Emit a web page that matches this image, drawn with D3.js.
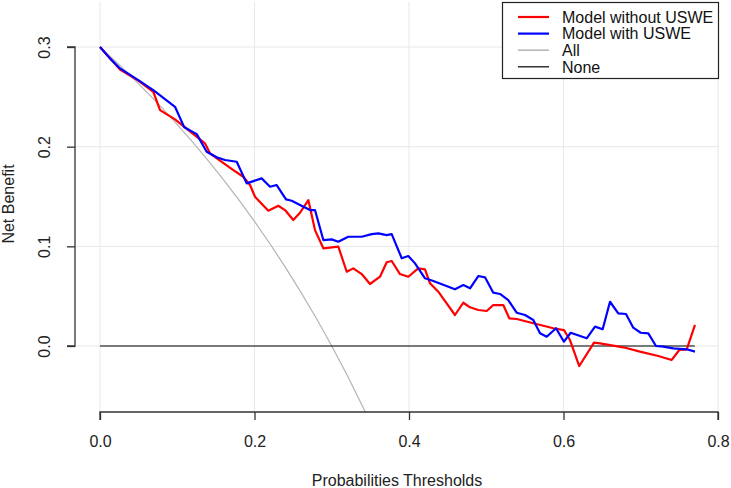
<!DOCTYPE html>
<html>
<head>
<meta charset="utf-8">
<script src="https://cdn.jsdelivr.net/npm/d3@7"></script>
<style>
  html, body { margin: 0; padding: 0; background: #fff; }
  svg { display: block; font-family: "Liberation Sans", Arial, sans-serif; }
</style>
</head>
<body>
<svg id="chart" width="731" height="488"></svg>
<script>
// ---- data ----
const xTicks = [0.0, 0.2, 0.4, 0.6, 0.8];
const yTicks = [0.0, 0.1, 0.2, 0.3];
const xTickLabels = ["0.0", "0.2", "0.4", "0.6", "0.8"];
const yTickLabels = ["0.0", "0.1", "0.2", "0.3"];
const legendLabels = ["Model without USWE", "Model with USWE", "All", "None"];

const redThresholds = [0, 0.0129, 0.0259, 0.0496, 0.0690, 0.0777, 0.0971, 0.1100, 0.1359, 0.1424, 0.1553, 0.1726, 0.1855, 0.1942, 0.2006, 0.2179, 0.2308, 0.2395, 0.2502, 0.2589, 0.2697, 0.2783, 0.2891, 0.3085, 0.3194, 0.3279, 0.3388, 0.3495, 0.3625, 0.3711, 0.3776, 0.3883, 0.3991, 0.4120, 0.4207, 0.4272, 0.4379, 0.4488, 0.4595, 0.4703, 0.4790, 0.4897, 0.5006, 0.5091, 0.5221, 0.5298, 0.5394, 0.5609, 0.5868, 0.6006, 0.6084, 0.6204, 0.6395, 0.6472, 0.6774, 0.6990, 0.7227, 0.7401, 0.7499, 0.7595, 0.7702];
const redValues = [0.300, 0.2886, 0.2773, 0.2663, 0.2551, 0.2367, 0.2274, 0.2194, 0.2033, 0.1933, 0.1859, 0.1765, 0.1698, 0.1615, 0.1498, 0.1357, 0.1407, 0.1364, 0.1264, 0.1337, 0.1464, 0.1163, 0.0980, 0.0998, 0.0745, 0.0779, 0.0722, 0.0622, 0.0695, 0.0840, 0.0853, 0.0722, 0.0695, 0.0779, 0.0769, 0.0629, 0.0545, 0.0428, 0.0311, 0.0434, 0.0388, 0.0361, 0.0351, 0.0411, 0.0411, 0.0278, 0.0271, 0.0228, 0.0178, 0.0160, 0.0060, -0.0201, 0.0033, 0.0027, -0.0013, -0.0057, -0.0100, -0.0140, -0.0040, -0.0033, 0.0211];

const blueThresholds = [0, 0.0129, 0.0259, 0.0496, 0.0690, 0.0971, 0.1091, 0.1252, 0.1381, 0.1511, 0.1618, 0.1770, 0.1899, 0.2093, 0.2201, 0.2287, 0.2408, 0.2482, 0.2589, 0.2718, 0.2783, 0.2891, 0.2999, 0.3085, 0.3214, 0.3388, 0.3517, 0.3603, 0.3711, 0.3776, 0.3906, 0.3991, 0.4078, 0.4207, 0.4315, 0.4595, 0.4703, 0.4790, 0.4897, 0.4984, 0.5091, 0.5178, 0.5285, 0.5394, 0.5502, 0.5609, 0.5696, 0.5783, 0.5903, 0.6006, 0.6093, 0.6300, 0.6408, 0.6507, 0.6602, 0.6709, 0.6809, 0.6903, 0.6999, 0.7098, 0.7197, 0.7292, 0.7421, 0.7595, 0.7702];
const blueValues = [0.300, 0.2886, 0.2785, 0.2668, 0.2568, 0.2400, 0.2194, 0.2126, 0.1949, 0.1893, 0.1866, 0.1849, 0.1632, 0.1682, 0.1598, 0.1615, 0.1471, 0.1457, 0.1414, 0.1364, 0.1364, 0.1063, 0.1070, 0.1046, 0.1096, 0.1096, 0.1123, 0.1130, 0.1113, 0.1123, 0.0880, 0.0903, 0.0829, 0.0679, 0.0652, 0.0569, 0.0612, 0.0579, 0.0702, 0.0689, 0.0535, 0.0522, 0.0461, 0.0334, 0.0311, 0.0261, 0.0127, 0.0093, 0.0178, 0.0043, 0.0133, 0.0077, 0.0194, 0.0168, 0.0444, 0.0328, 0.0321, 0.0184, 0.0133, 0.0127, 0.0000, -0.0007, -0.0023, -0.0033, -0.0057];

const allThresholds = [0, 0.02, 0.04, 0.06, 0.08, 0.10, 0.12, 0.14, 0.16, 0.18, 0.20, 0.22, 0.24, 0.26, 0.28, 0.30, 0.32, 0.34, 0.36];
const allValues = [0.300, 0.2857, 0.2708, 0.2553, 0.2391, 0.2222, 0.2045, 0.1860, 0.1667, 0.1463, 0.1250, 0.1026, 0.0789, 0.0541, 0.0278, 0.0000, -0.0294, -0.0606, -0.0938];

const noneThresholds = [0, 0.77];
const noneValues = [0, 0];

// ---- layout ----
const FS = 16;
const svg = d3.select("#chart");
const plot = { left: 75, right: 719, top: 2, bottom: 412 };
const x = d3.scaleLinear().domain([0, 0.8]).range([100, 718]);
const y = d3.scaleLinear().domain([0, 0.3]).range([346, 47]);

svg.append("defs").append("clipPath").attr("id", "clip")
  .append("rect").attr("x", plot.left).attr("y", plot.top)
  .attr("width", plot.right - plot.left).attr("height", plot.bottom - plot.top);

// grid
const grid = svg.append("g").attr("stroke", "#e8e8e8").attr("stroke-width", 1);
xTicks.forEach(t => grid.append("line")
  .attr("x1", x(t)).attr("x2", x(t)).attr("y1", plot.top).attr("y2", plot.bottom));
yTicks.forEach(t => grid.append("line")
  .attr("x1", plot.left).attr("x2", plot.right).attr("y1", y(t)).attr("y2", y(t)));

const line = d3.line().x(d => x(d[0])).y(d => y(d[1]));
const zip = (a, b) => a.map((v, i) => [v, b[i]]);
const lines = svg.append("g").attr("clip-path", "url(#clip)").attr("fill", "none");

lines.append("path").attr("d", line(zip(allThresholds, allValues)))
  .attr("stroke", "#b4b4b4").attr("stroke-width", 1.2);
lines.append("path").attr("d", line(zip(noneThresholds, noneValues)))
  .attr("stroke", "#000").attr("stroke-width", 1.2);
lines.append("path").attr("d", line(zip(redThresholds, redValues)))
  .attr("stroke", "#ff0000").attr("stroke-width", 2.2).attr("stroke-linejoin", "round");
lines.append("path").attr("d", line(zip(blueThresholds, blueValues)))
  .attr("stroke", "#0000ff").attr("stroke-width", 2.2).attr("stroke-linejoin", "round");

// x axis
const xAxis = svg.append("g").attr("transform", `translate(0,${plot.bottom})`)
  .call(d3.axisBottom(x).tickValues(xTicks).tickFormat((d, i) => xTickLabels[i]).tickSize(8).tickPadding(15.5));
xAxis.select(".domain").attr("stroke", "#333").attr("stroke-width", 1.3).attr("d", `M${x(0)},8V0H${x(0.8)}V8`);
xAxis.selectAll(".tick line").attr("stroke", "#333").attr("stroke-width", 1.3);
xAxis.selectAll("text").attr("font-size", FS).attr("fill", "#222")
  .attr("font-family", "Liberation Sans, Arial, sans-serif");

// y axis
const yAxis = svg.append("g").attr("transform", `translate(${plot.left},0)`)
  .call(d3.axisLeft(y).tickValues(yTicks).tickFormat((d, i) => yTickLabels[i]).tickSize(8).tickPadding(12));
yAxis.select(".domain").attr("stroke", "#333").attr("stroke-width", 1.3).attr("d", `M-8,${y(0)}H0V${y(0.3)}H-8`);
yAxis.selectAll(".tick line").attr("stroke", "#333").attr("stroke-width", 1.3);
yAxis.selectAll("text")
  .attr("font-size", FS).attr("fill", "#222")
  .attr("font-family", "Liberation Sans, Arial, sans-serif")
  .attr("text-anchor", "middle").attr("x", null).attr("dy", null)
  .attr("transform", "translate(-25,0) rotate(-90)");

// axis titles
svg.append("text").attr("x", 397).attr("y", 486).attr("text-anchor", "middle")
  .attr("font-size", FS).attr("fill", "#222").text("Probabilities Thresholds");
svg.append("text").attr("transform", "translate(14,204) rotate(-90)").attr("text-anchor", "middle")
  .attr("font-size", FS).attr("fill", "#222").text("Net Benefit");

// legend
const legend = svg.append("g");
legend.append("rect").attr("x", 502.5).attr("y", 2.5).attr("width", 216).attr("height", 76)
  .attr("fill", "#fff").attr("stroke", "#222").attr("stroke-width", 1.2);
const legColors = ["#ff0000", "#0000ff", "#b4b4b4", "#000"];
const legWidths = [2.2, 2.2, 1.5, 1.2];
legendLabels.forEach((lab, i) => {
  const yy = 17 + i * 16.6;
  legend.append("line").attr("x1", 518).attr("x2", 549).attr("y1", yy).attr("y2", yy)
    .attr("stroke", legColors[i]).attr("stroke-width", legWidths[i]);
  legend.append("text").attr("x", 562).attr("y", yy + 5.8).attr("font-size", FS)
    .attr("fill", "#111").text(lab);
});
</script>
</body>
</html>
